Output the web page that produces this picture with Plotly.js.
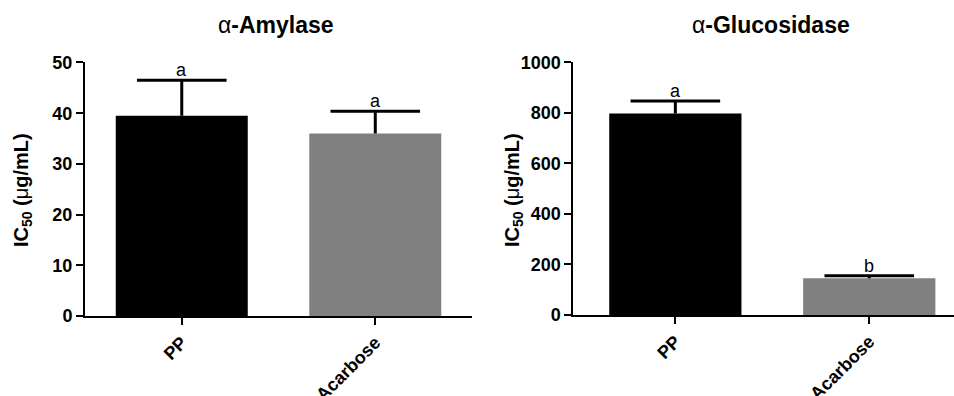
<!DOCTYPE html>
<html>
<head>
<meta charset="utf-8">
<script src="https://cdn.plot.ly/plotly-3.0.1.min.js"></script>
<style>html,body{margin:0;padding:0;background:#fff;}#chart{width:954px;height:396px;}</style>
</head>
<body>
<div id="chart"></div>
<script>
const categories = ['PP', 'Acarbose'];
const amylaseIC50 = [39.5, 36.0];
const amylaseErr = [7.0, 4.4];
const amylaseLetters = ['a', 'a'];
const glucosidaseIC50 = [797, 145];
const glucosidaseErr = [50, 10];
const glucosidaseLetters = ['a', 'b'];
const barColors = ['#000000', '#808080'];
const panelTitles = ['α-Amylase', 'α-Glucosidase'];
const yTitle = 'IC<sub>50</sub> (<span style="font-weight:normal">μ</span>g/mL)';

const FONT = 'Liberation Sans, Arial, sans-serif';

function barTraces(vals, errs, xa, ya) {
  const tops = vals.map((v, i) => v + errs[i]);
  return [
    {
      type: 'bar', x: categories, y: vals, xaxis: xa, yaxis: ya,
      width: 0.682,
      marker: {color: barColors, line: {width: 0}},
      error_y: {type: 'data', array: errs, arrayminus: errs.map(() => 0), symmetric: false,
                visible: true, color: '#000', thickness: 3, width: 0},
      hoverinfo: 'none', showlegend: false
    },
    {
      type: 'scatter', mode: 'markers', x: categories, y: tops, xaxis: xa, yaxis: ya,
      marker: {symbol: 'line-ew', size: 64, color: '#000', line: {color: '#000', width: 3}},
      hoverinfo: 'none', showlegend: false, cliponaxis: false
    }
  ];
}

const data = [].concat(
  barTraces(amylaseIC50, amylaseErr, 'x', 'y'),
  barTraces(glucosidaseIC50, glucosidaseErr, 'x2', 'y2')
);

const axisCommon = {
  showline: true, linecolor: '#000', linewidth: 2, mirror: false,
  showgrid: false, zeroline: false,
  ticks: 'outside', ticklen: 7, tickwidth: 2, tickcolor: '#000',
  tickfont: {family: FONT, size: 18, color: '#000', weight: 'bold'},
  fixedrange: true
};

const annotations = [];
function letterAnn(vals, errs, letters, xa, ya) {
  categories.forEach((c, i) => {
    annotations.push({
      x: c, y: vals[i] + errs[i], xref: xa, yref: ya,
      text: letters[i], showarrow: false, xanchor: 'center', yanchor: 'bottom',
      yshift: -2,
      font: {family: FONT, size: 18, color: '#000'}
    });
  });
}
letterAnn(amylaseIC50, amylaseErr, amylaseLetters, 'x', 'y');
letterAnn(glucosidaseIC50, glucosidaseErr, glucosidaseLetters, 'x2', 'y2');

const titlePos = [[0.2893, 0.9369], [0.8082, 0.9369]];
panelTitles.forEach((t, i) => {
  annotations.push({
    x: titlePos[i][0], y: titlePos[i][1], xref: 'paper', yref: 'paper',
    text: t.replace('α', '<span style="font-weight:normal">α</span>'),
    showarrow: false, xanchor: 'center', yanchor: 'middle',
    font: {family: FONT, size: 23, color: '#000', weight: 'bold'}
  });
});
[0.0231, 0.5377].forEach(x => {
  annotations.push({
    x: x, y: 0.52, xref: 'paper', yref: 'paper', text: yTitle,
    showarrow: false, xanchor: 'center', yanchor: 'middle', textangle: -90,
    font: {family: FONT, size: 20, color: '#000', weight: 'bold'}
  });
});

const layout = {
  width: 954, height: 396,
  margin: {l: 0, r: 0, t: 0, b: 0},
  paper_bgcolor: '#fff', plot_bgcolor: '#fff',
  showlegend: false,
  xaxis: Object.assign({}, axisCommon, {domain: [0.0891, 0.4948], range: [-0.5, 1.5], tickangle: -45, anchor: 'y', type: 'category'}),
  yaxis: Object.assign({}, axisCommon, {domain: [0.2020, 0.8422], range: [0, 50], dtick: 10, anchor: 'x'}),
  xaxis2: Object.assign({}, axisCommon, {domain: [0.601, 1.0], range: [-0.526, 1.437], tickangle: -45, anchor: 'y2', type: 'category'}),
  yaxis2: Object.assign({}, axisCommon, {domain: [0.2045, 0.8427], range: [0, 1000], dtick: 200, anchor: 'x2'}),
  annotations: annotations
};

Plotly.newPlot('chart', data, layout, {displayModeBar: false, staticPlot: true});
</script>
</body>
</html>
